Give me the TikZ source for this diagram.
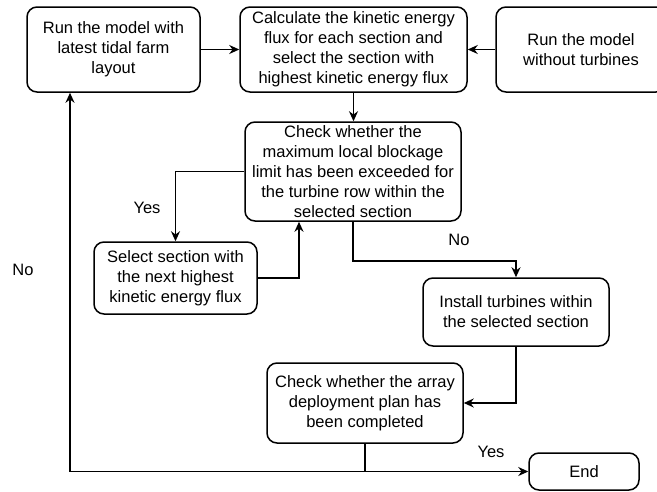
\documentclass[tikz,border=0pt]{standalone}
\usepackage{fontspec}
\setmainfont{Liberation Sans}
\usetikzlibrary{arrows.meta,positioning}
\tikzstyle{process}=[draw,rounded corners=10pt,line width=1.5pt,align=center,inner sep=0pt,
  font=\fontsize{16.5}{20}\selectfont]
\tikzstyle{arrow}=[line width=1.5pt,-{Stealth[length=10pt,width=9pt]},draw=black]
\tikzstyle{lbl}=[font=\fontsize{16.5}{20}\selectfont]

\begin{document}
\begin{tikzpicture}[x=1pt,y=-1pt]
    \useasboundingbox (0,0) rectangle (657,491);
    \node[process,minimum width=173pt,minimum height=85pt](run) at (113.5,49.5) {Run the model with\\latest tidal farm\\layout};
    \node[process,minimum width=227pt,minimum height=85pt](calc) at (353.5,49.5) {Calculate the kinetic energy\\flux for each section and\\select the section with\\highest kinetic energy flux};
    \node[process,minimum width=170pt,minimum height=85pt](base) at (581,49.5) {Run the model\\without turbines};
    \node[process,minimum width=216pt,minimum height=99pt](block) at (353,171.5) {Check whether the\\maximum local blockage\\limit has been exceeded for\\the turbine row within the\\selected section};
    \node[process,minimum width=163pt,minimum height=72pt](next) at (175.5,278) {Select section with\\the next highest\\kinetic energy flux};
    \node[process,minimum width=186pt,minimum height=68pt](install) at (516,312) {Install turbines within\\the selected section};
    \node[process,minimum width=196pt,minimum height=80pt](done) at (365,403) {Check whether the array\\deployment plan has\\been completed};
    \node[process,minimum width=110pt,minimum height=37pt](end) at (584,471.5) {End};
    \coordinate (split) at (done.south |- end.west);
    \coordinate (back) at (70,471.5);

    \draw[arrow] (run) -- (calc);
    \draw[arrow] (base) -- (calc);
    \draw[arrow] (calc.south) -- (calc.south |- block.north);
    \draw[arrow] (block.west) -| (next.north);
    \draw[arrow] (next.east) -| ([xshift=-54pt]block.south);
    \draw[arrow] (block.south) -- ++(0,39) -| (install.north);
    \draw[arrow] (install.south) |- (done.east);
    \draw[line width=1.5pt] (done.south) -- (split);
    \draw[arrow] (split) -- (end.west);
    \draw[arrow] (split) -- (back) -- (back |- run.south);

    \node[lbl](yes1) at (147,208) {Yes};
    \node[lbl](no1) at (459,240) {No};
    \node[lbl](yes2) at (491,452) {Yes};
    \node[lbl](no2) at (23,270) {No};
\end{tikzpicture}
\end{document}
